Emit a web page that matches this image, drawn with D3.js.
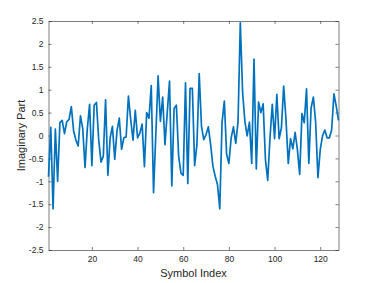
<!DOCTYPE html>
<html><head><meta charset="utf-8">
<script src="https://cdn.jsdelivr.net/npm/d3@7"></script>
<style>body{margin:0;background:#fff;} svg{display:block;}</style>
</head><body><svg id="c" width="374" height="283"></svg>
<script>
const imagValues = [-0.9,0.18,-1.6,0.14,-1.0,0.28,0.33,0.04,0.3,0.35,0.63,0.1,-0.1,-0.23,0.43,0.15,-0.7,0.15,0.68,-0.66,
0.66,0.72,-0.1,-0.58,-0.45,0.78,-0.87,-0.05,0.2,-0.52,0.1,0.38,-0.3,-0.05,-0.03,0.86,0.35,-0.1,0.55,-0.05,
0.05,0.25,-0.68,0.5,0.38,1.09,-1.25,0.02,1.3,0.31,0.84,-0.2,0.5,1.19,-1.1,0.59,0.66,-0.45,-0.82,-0.87,
1.15,-1.05,1.03,1.03,-0.66,-0.2,1.35,0.2,-0.09,0.02,0.19,-0.2,-0.67,-0.89,-1.07,-1.6,0.28,0.75,-0.41,-0.61,
-0.05,0.19,-0.17,0.3,2.46,0.95,0.31,-0.01,0.29,-0.61,1.67,-0.73,0.73,0.5,0.69,-0.52,-0.98,-0.05,0.68,-0.07,
0.9,-0.07,0.17,1.08,0.35,-0.61,-0.07,-0.29,0.07,-0.31,-0.85,0.48,0.28,1.02,-0.61,0.6,0.84,0.28,-0.92,-0.31,
-0.01,0.12,-0.05,-0.05,0.12,0.91,0.64,0.33];
const symbolIndex = imagValues.map((v,i)=>i+1);
const xTicks = [20,40,60,80,100,120];
const yTicks = [-2.5,-2,-1.5,-1,-0.5,0,0.5,1,1.5,2,2.5];
const xLabel = "Symbol Index";
const yLabel = "Imaginary Part";

const svg = d3.select("#c");
const L=48.5, R=338.5, T=21, B=250;
const x = d3.scaleLinear().domain([1,128]).range([L,R]);
const y = d3.scaleLinear().domain([-2.5,2.5]).range([B,T]);
const axisColor = "#262626";
const font = "Liberation Sans, Arial, Helvetica, sans-serif";
const tl = 3;

function style(g){
  g.selectAll("path.domain").attr("stroke",axisColor).attr("stroke-width",0.6);
  g.selectAll(".tick line").attr("stroke",axisColor).attr("stroke-width",0.6);
  g.selectAll("text").attr("fill",axisColor).style("font-family",font).style("font-size","8.5px");
}
svg.append("g").attr("transform",`translate(0,${B})`)
  .call(d3.axisBottom(x).tickValues(xTicks).tickSizeInner(-tl).tickSizeOuter(0).tickPadding(6).tickFormat(d3.format("d")))
  .call(style);
svg.append("g").attr("transform",`translate(0,${T})`)
  .call(d3.axisTop(x).tickValues(xTicks).tickSizeInner(-tl).tickSizeOuter(0).tickFormat(""))
  .call(style);
svg.append("g").attr("transform",`translate(${L},0)`)
  .call(d3.axisLeft(y).tickValues(yTicks).tickSizeInner(-tl).tickSizeOuter(0).tickPadding(5).tickFormat(d=>String(d)))
  .call(style);
svg.append("g").attr("transform",`translate(${R},0)`)
  .call(d3.axisRight(y).tickValues(yTicks).tickSizeInner(-tl).tickSizeOuter(0).tickFormat(""))
  .call(style);

const line = d3.line().x((d,i)=>x(symbolIndex[i])).y(d=>y(d));
svg.append("path").datum(imagValues).attr("d",line)
  .attr("fill","none").attr("stroke","#0072BD").attr("stroke-width",1.7).attr("stroke-linejoin","round");

svg.append("text").attr("x",(L+R)/2).attr("y",277).attr("text-anchor","middle")
  .attr("fill",axisColor).style("font-family",font).style("font-size","11px").text(xLabel);
svg.append("text").attr("transform",`translate(25,${(T+B)/2}) rotate(-90)`).attr("text-anchor","middle")
  .attr("fill",axisColor).style("font-family",font).style("font-size","11px").text(yLabel);
</script></body></html>
